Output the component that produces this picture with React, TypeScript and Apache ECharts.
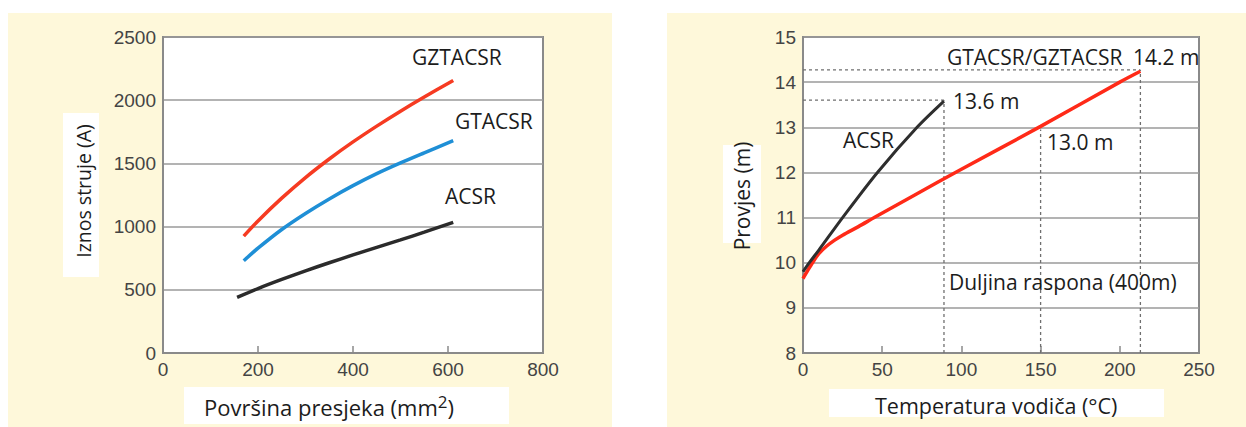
import React, { useEffect, useRef } from "react";
import * as echarts from "echarts";

// ---- Left chart: current vs. cross-section ----
const areaTicks = [0, 200, 400, 600, 800];
const currentTicks = [0, 500, 1000, 1500, 2000, 2500];

const gztacsrArea = [170, 200, 250, 300, 350, 400, 450, 500, 550, 611];
const gztacsrAmps = [925, 1045, 1225, 1388, 1535, 1670, 1795, 1913, 2025, 2156];

const gtacsrArea = [170, 200, 250, 300, 350, 400, 450, 500, 550, 611];
const gtacsrAmps = [730, 829, 977, 1104, 1219, 1324, 1419, 1504, 1584, 1680];

const acsrArea = [156, 200, 250, 300, 350, 400, 450, 500, 550, 611];
const acsrAmps = [440, 510, 582, 650, 714, 776, 836, 895, 956, 1034];

// ---- Right chart: sag vs. conductor temperature ----
const tempTicks = [0, 50, 100, 150, 200, 250];
const sagTicks = [8, 9, 10, 11, 12, 13, 14, 15];

const gapTemp = [0, 3, 6, 10, 15, 20, 25, 35, 45, 70, 100, 150, 200, 213];
const gapSag = [9.65, 9.83, 10.0, 10.2, 10.37, 10.5, 10.61, 10.8, 11.0, 11.49, 12.07, 13.02, 14.0, 14.24];

const acsrTemp = [0, 4, 10, 25, 47, 72, 89];
const acsrSag = [9.8, 10.0, 10.28, 11.0, 12.0, 13.0, 13.58];

// reference (dashed) lines: [x1, y1, x2, y2]
const refLines = [
  [0, 13.6, 89, 13.6],
  [0, 14.27, 213, 14.27],
  [89, 8, 89, 13.6],
  [150, 8, 150, 12.95],
  [213, 8, 213, 14.27],
];

const zip = (xs: number[], ys: number[]) => xs.map((x, i) => [x, ys[i]]);

const TICK_FONT = "'Liberation Sans', Arial, Helvetica, sans-serif";
const TEXT_FONT = "'Open Sans', 'Noto Sans', sans-serif";
const BORDER = "#8a8a8a";
const GRID = "#9a9a9a";
const BEIGE = "#fef8da";

function axisLabel() {
  return {
    fontFamily: TICK_FONT,
    fontSize: 19,
    color: "#444",
    margin: 7,
    formatter: (v: number) => String(v),
  };
}

export default function App() {
  const ref = useRef<HTMLDivElement>(null);
  useEffect(() => {
    if (!ref.current) return;
    const chart = echarts.init(ref.current, undefined, { renderer: "svg" });

    const txt = (text: string, x: number, y: number, size = 21, extra: any = {}) => ({
      type: "text",
      x,
      y,
      z: 10,
      ...extra,
      style: {
        text,
        fontFamily: TEXT_FONT,
        fontSize: size,
        fill: "#1c1c1c",
        textAlign: "left",
        textVerticalAlign: "middle",
        ...(extra.style || {}),
      },
    });

    const lineSeries = (xi: number, data: number[][], color: string, width: number) => ({
      type: "line",
      xAxisIndex: xi,
      yAxisIndex: xi,
      data,
      smooth: 0.3,
      symbol: "none",
      lineStyle: { color, width },
      z: 3,
    });

    const option: any = {
      animation: false,
      graphic: [
        { type: "rect", z: -10, shape: { x: 8, y: 13, width: 604, height: 414 }, style: { fill: BEIGE } },
        { type: "rect", z: -10, shape: { x: 667, y: 13, width: 579, height: 414 }, style: { fill: BEIGE } },
        { type: "rect", z: 5, shape: { x: 63, y: 113, width: 36, height: 164 }, style: { fill: "#fff" } },
        { type: "rect", z: 5, shape: { x: 184, y: 387, width: 325, height: 37 }, style: { fill: "#fff" } },
        { type: "rect", z: 5, shape: { x: 723, y: 145, width: 38, height: 98 }, style: { fill: "#fff" } },
        { type: "rect", z: 5, shape: { x: 829, y: 389, width: 335, height: 28 }, style: { fill: "#fff" } },
        // axis titles
        txt("Iznos struje (A)", 83, 191, 19.5, { rotation: Math.PI / 2, style: { textAlign: "center" } }),
        {
          type: "text",
          x: 204,
          y: 407,
          z: 10,
          style: {
            text: "{t|Površina presjeka (mm}{s|2}{t|)}",
            fontFamily: TEXT_FONT,
            textAlign: "left",
            textVerticalAlign: "middle",
            rich: {
              t: { fontFamily: TEXT_FONT, fontSize: 22, fill: "#1c1c1c" },
              s: { fontFamily: TEXT_FONT, fontSize: 17, fill: "#1c1c1c", padding: [0, 0, 12, 0] },
            },
          },
        },
        txt("Provjes (m)", 742, 196, 21, { rotation: Math.PI / 2, style: { textAlign: "center" } }),
        txt("Temperatura vodiča (°C)", 875, 405, 21.5),
        // series labels left
        txt("GZTACSR", 412, 57, 21),
        txt("GTACSR", 455, 121, 21),
        txt("ACSR", 445, 196, 21),
        // annotations right
        txt("GTACSR/GZTACSR", 947, 57, 21),
        txt("14.2 m", 1133, 57, 21),
        txt("13.6 m", 953, 101, 21),
        txt("ACSR", 843, 140, 21),
        txt("13.0 m", 1047, 142, 21),
        txt("Duljina raspona (400m)", 949, 282, 21),
      ],
      grid: [
        { left: 163, top: 37, width: 380, height: 316, show: true, backgroundColor: "#fff", borderColor: BORDER, borderWidth: 2 },
        { left: 803, top: 37, width: 396, height: 316, show: true, backgroundColor: "#fff", borderColor: BORDER, borderWidth: 2 },
      ],
      xAxis: [
        {
          gridIndex: 0,
          type: "value",
          min: areaTicks[0],
          max: areaTicks[areaTicks.length - 1],
          interval: areaTicks[1] - areaTicks[0],
          axisLine: { show: true, lineStyle: { color: BORDER, width: 2 } },
          axisTick: { show: true, inside: true, length: 7, lineStyle: { color: BORDER, width: 1.5 } },
          axisLabel: axisLabel(),
          splitLine: { show: false },
        },
        {
          gridIndex: 1,
          type: "value",
          min: tempTicks[0],
          max: tempTicks[tempTicks.length - 1],
          interval: tempTicks[1] - tempTicks[0],
          axisLine: { show: true, lineStyle: { color: BORDER, width: 2 } },
          axisTick: { show: true, inside: true, length: 7, lineStyle: { color: BORDER, width: 1.5 } },
          axisLabel: axisLabel(),
          splitLine: { show: false },
        },
      ],
      yAxis: [
        {
          gridIndex: 0,
          type: "value",
          min: currentTicks[0],
          max: currentTicks[currentTicks.length - 1],
          interval: currentTicks[1] - currentTicks[0],
          axisLine: { show: true, lineStyle: { color: BORDER, width: 2 } },
          axisTick: { show: false },
          axisLabel: axisLabel(),
          splitLine: { show: true, lineStyle: { color: GRID, width: 1.5 } },
        },
        {
          gridIndex: 1,
          type: "value",
          min: sagTicks[0],
          max: sagTicks[sagTicks.length - 1],
          interval: sagTicks[1] - sagTicks[0],
          axisLine: { show: true, lineStyle: { color: BORDER, width: 2 } },
          axisTick: { show: false },
          axisLabel: axisLabel(),
          splitLine: { show: true, lineStyle: { color: GRID, width: 1.5 } },
        },
      ],
      series: [
        ...refLines.map((l) => ({
          type: "line",
          xAxisIndex: 1,
          yAxisIndex: 1,
          data: [
            [l[0], l[1]],
            [l[2], l[3]],
          ],
          showSymbol: false,
          symbol: "none",
          silent: true,
          lineStyle: { color: "#6f6f6f", width: 1.3, type: [3, 3] },
          z: 2,
        })),
        lineSeries(0, zip(gztacsrArea, gztacsrAmps), "#f63b22", 3.5),
        lineSeries(0, zip(gtacsrArea, gtacsrAmps), "#1f8fd6", 3.5),
        lineSeries(0, zip(acsrArea, acsrAmps), "#2b2b2b", 3.5),
        lineSeries(1, zip(gapTemp, gapSag), "#ff2a18", 3.5),
        lineSeries(1, zip(acsrTemp, acsrSag), "#2e2e2e", 3),
      ],
    };
    chart.setOption(option);
    return () => chart.dispose();
  }, []);

  return (
    <div
      ref={ref}
      style={{ position: "fixed", left: 0, top: 0, width: 1246, height: 427, background: "#fff" }}
    />
  );
}
